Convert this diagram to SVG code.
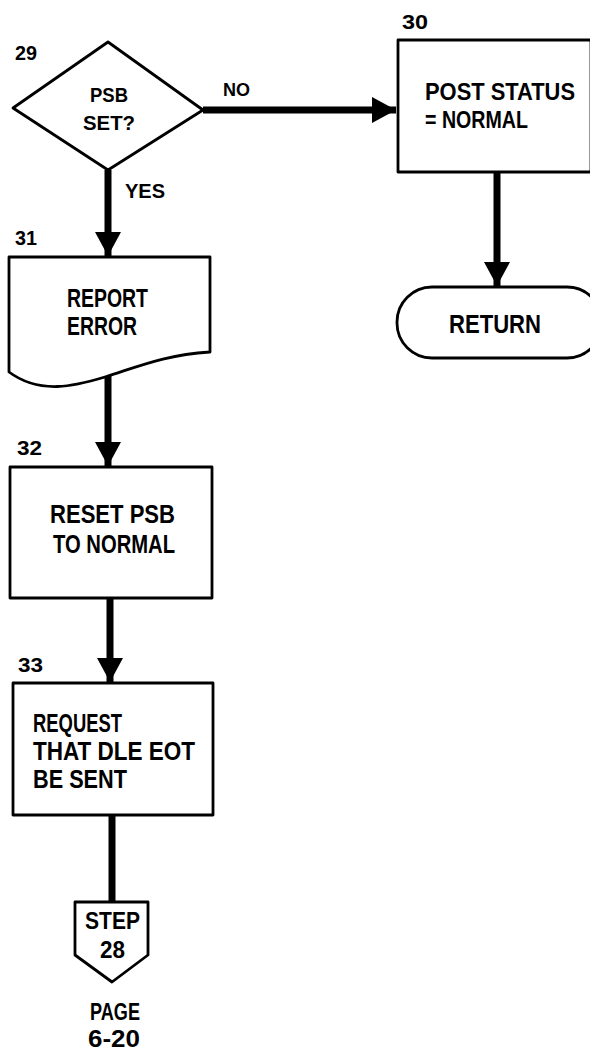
<svg xmlns="http://www.w3.org/2000/svg" width="590" height="1052" viewBox="0 0 590 1052">
<style>
.shape{fill:#fff;stroke:#000;stroke-width:2.8;stroke-linejoin:round}
.conn{fill:none;stroke:#000;stroke-width:7}
text{font-family:"Liberation Sans","DejaVu Sans",sans-serif;font-weight:bold;fill:#000}
.t{font-size:26px}
.m{font-size:23px}
.s{font-size:22px}
.lbl{font-size:21px}
.sm{font-size:19px}
</style>
<defs>
<marker id="ah" markerUnits="userSpaceOnUse" markerWidth="28" markerHeight="28" viewBox="0 0 28 28" refX="26" refY="14" orient="auto">
<path d="M2,1 L26,14 L2,27 Z" fill="#000"/>
</marker>
</defs>
<rect width="590" height="1052" fill="#fff"/>
<g id="connectors">
<path class="conn" d="M203,110 H396" marker-end="url(#ah)"/>
<path class="conn" d="M108,170 V256" marker-end="url(#ah)"/>
<path class="conn" d="M497,172 V286" marker-end="url(#ah)"/>
<path class="conn" d="M108,376 V466" marker-end="url(#ah)"/>
<path class="conn" d="M110,598 V682" marker-end="url(#ah)"/>
<path class="conn" d="M112,815 V902"/>
<text class="sm" x="223" y="96" textLength="27" lengthAdjust="spacingAndGlyphs">NO</text>
<text class="lbl" x="125" y="198" textLength="40" lengthAdjust="spacingAndGlyphs">YES</text>
</g>
<g id="n29">
<path class="shape" d="M108,42 L203,110 L108,170 L13,108 Z"/>
<text class="lbl" x="15" y="60" textLength="22" lengthAdjust="spacingAndGlyphs">29</text>
<text class="lbl" x="90" y="102" textLength="38" lengthAdjust="spacingAndGlyphs">PSB</text>
<text class="lbl" x="83" y="130" textLength="52" lengthAdjust="spacingAndGlyphs">SET?</text>
</g>
<g id="n30">
<rect class="shape" x="398" y="40" width="193" height="132"/>
<text class="lbl" x="402" y="29" textLength="26" lengthAdjust="spacingAndGlyphs">30</text>
<text class="m" x="425" y="100" textLength="150" lengthAdjust="spacingAndGlyphs">POST STATUS</text>
<text class="m" x="425" y="128" textLength="103" lengthAdjust="spacingAndGlyphs">= NORMAL</text>
</g>
<g id="return">
<rect class="shape" x="397" y="287" width="205" height="71" rx="35" ry="35"/>
<text class="t" x="449" y="333" textLength="92" lengthAdjust="spacingAndGlyphs">RETURN</text>
</g>
<g id="n31">
<path class="shape" d="M9,257 H210 V352 C165,355 140,366 105,377 C75,386 40,395 9,372 Z"/>
<text class="lbl" x="15" y="245" textLength="22" lengthAdjust="spacingAndGlyphs">31</text>
<text class="t" x="67" y="307" textLength="81" lengthAdjust="spacingAndGlyphs">REPORT</text>
<text class="t" x="67" y="335" textLength="70" lengthAdjust="spacingAndGlyphs">ERROR</text>
</g>
<g id="n32">
<rect class="shape" x="10" y="467" width="202" height="131"/>
<text class="lbl" x="17" y="455" textLength="25" lengthAdjust="spacingAndGlyphs">32</text>
<text class="t" x="50" y="523" textLength="125" lengthAdjust="spacingAndGlyphs">RESET PSB</text>
<text class="t" x="53" y="553" textLength="122" lengthAdjust="spacingAndGlyphs">TO NORMAL</text>
</g>
<g id="n33">
<rect class="shape" x="13" y="683" width="200" height="132"/>
<text class="lbl" x="18" y="672" textLength="25" lengthAdjust="spacingAndGlyphs">33</text>
<text class="t" x="33" y="732" textLength="89" lengthAdjust="spacingAndGlyphs">REQUEST</text>
<text class="t" x="33" y="760" textLength="162" lengthAdjust="spacingAndGlyphs">THAT DLE EOT</text>
<text class="t" x="33" y="788" textLength="94" lengthAdjust="spacingAndGlyphs">BE SENT</text>
</g>
<g id="step28">
<path class="shape" d="M75,902 H148 V955 L112,982 L75,955 Z"/>
<text class="m" x="85" y="929" textLength="55" lengthAdjust="spacingAndGlyphs">STEP</text>
<text class="m" x="100" y="958" textLength="25" lengthAdjust="spacingAndGlyphs">28</text>
<text class="m" x="90" y="1020" textLength="50" lengthAdjust="spacingAndGlyphs">PAGE</text>
<text class="m" x="88" y="1047" textLength="52" lengthAdjust="spacingAndGlyphs">6-20</text>
</g>
</svg>
